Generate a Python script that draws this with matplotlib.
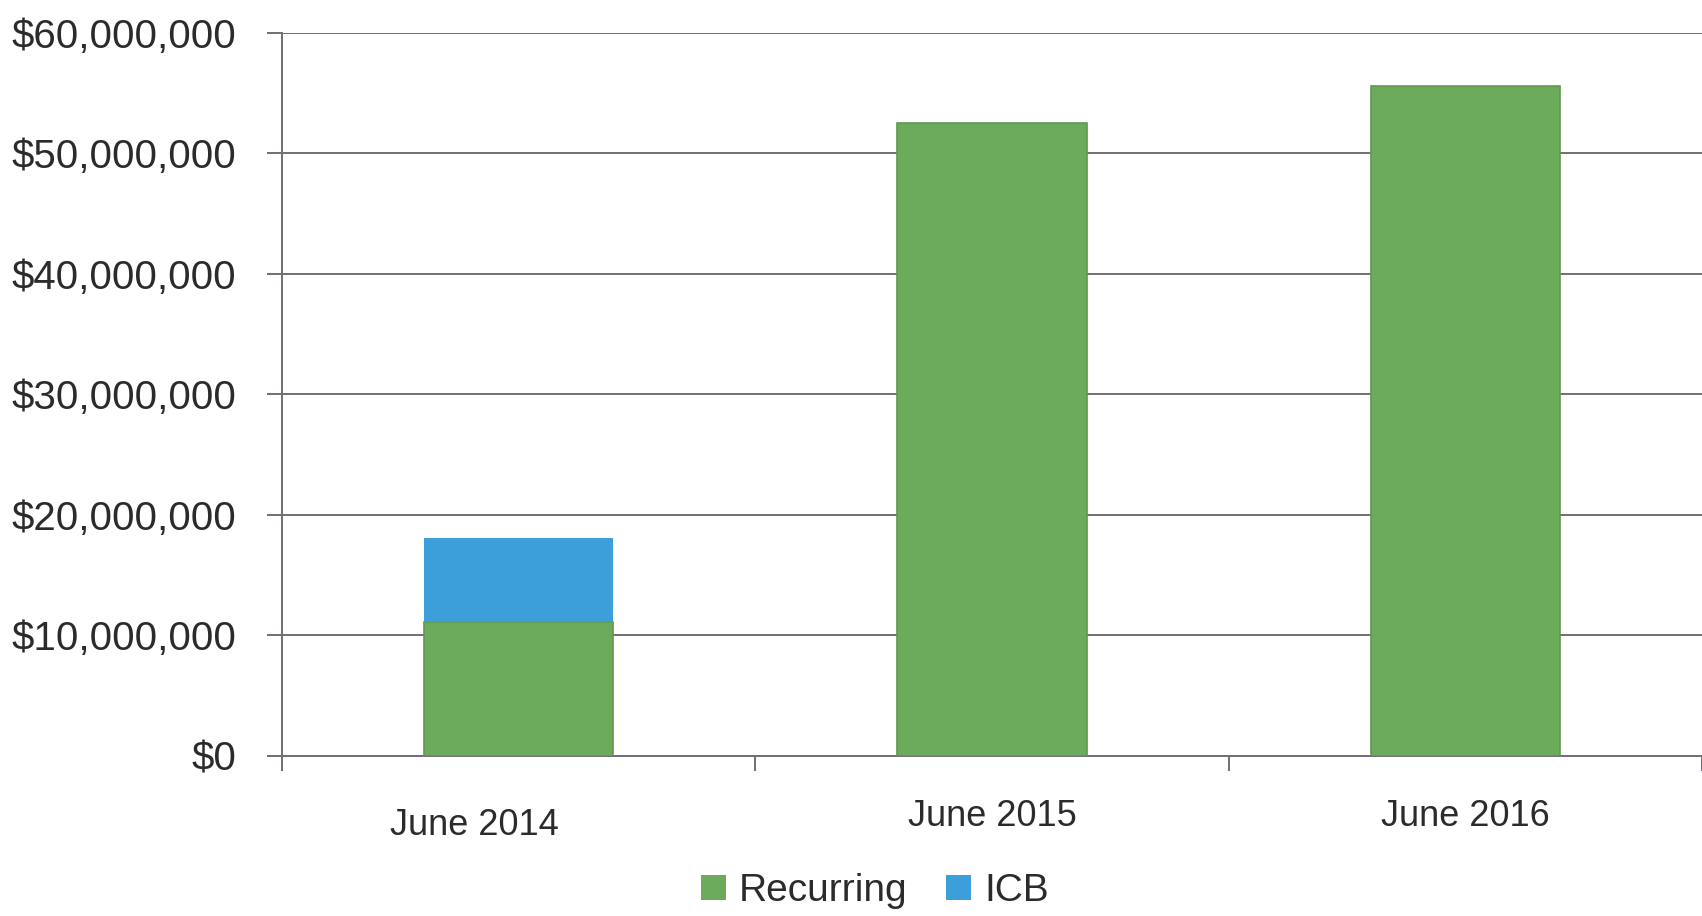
import numpy as np
import matplotlib
matplotlib.use("Agg")
import matplotlib.pyplot as plt
import matplotlib.transforms as mtransforms
from matplotlib.ticker import FuncFormatter, FixedLocator
from matplotlib.patches import Patch

plt.rcParams['font.family'] = ['Liberation Sans', 'DejaVu Sans']

# data
periods = ['June 2014', 'June 2015', 'June 2016']
recurring = [11_100_000, 52_500_000, 55_600_000]
icb = [7_000_000, 0, 0]

green = '#6cab5c'
blue = '#3d9fd9'
grid_col = '#746d78'
text_col = '#2b2b2b'

fig = plt.figure(figsize=(17.02, 9.16), dpi=100)
ax = fig.add_axes([0.1657, 0.1752, 0.8343, 0.7888])

x = np.arange(len(periods))
ax.bar(x, recurring, width=0.4, color=green, edgecolor='#5e9a4e', linewidth=1.2, zorder=3)
ax.bar(x, icb, width=0.4, bottom=recurring, color=blue, linewidth=0, zorder=3)

ax.set_xlim(-0.5, 2.5)
ax.set_ylim(0, 60_000_000)
ax.set_yticks(np.arange(0, 60_000_001, 10_000_000))
ax.yaxis.set_major_formatter(FuncFormatter(lambda v, p: '${:,.0f}'.format(v)))
ax.grid(axis='y', color=grid_col, linewidth=1.4, zorder=0)
ax.set_axisbelow(True)

# category labels at bar centres, tick marks on the boundaries
ax.set_xticks(x)
ax.set_xticklabels(periods)
ax.xaxis.set_minor_locator(FixedLocator([-0.5, 0.5, 1.5, 2.5]))
ax.tick_params(axis='x', which='major', length=0, pad=31, labelsize=26, labelcolor=text_col)
ax.tick_params(axis='x', which='minor', length=11, width=1.4, color=grid_col)
ax.tick_params(axis='y', length=11, width=1.4, color=grid_col, pad=22,
               labelsize=29, labelcolor=text_col)

# first label sits a little lower and to the left
lbl = ax.get_xticklabels()[0]
lbl.set_transform(lbl.get_transform() + mtransforms.ScaledTranslation(-0.44, -0.09, fig.dpi_scale_trans))

for s in ['top', 'right']:
    ax.spines[s].set_visible(False)
for s in ['left', 'bottom']:
    ax.spines[s].set_color(grid_col)
    ax.spines[s].set_linewidth(1.4)

handles = [Patch(facecolor=green, label='Recurring'), Patch(facecolor=blue, label='ICB')]
fig.legend(handles=handles, loc='center', bbox_to_anchor=(875 / 1702, 0.027), ncol=2,
           frameon=False, fontsize=28, handlelength=0.64, handleheight=0.6,
           handletextpad=0.33, columnspacing=1.0, labelcolor=text_col)

fig.savefig('out.png', dpi=100, facecolor='white')
